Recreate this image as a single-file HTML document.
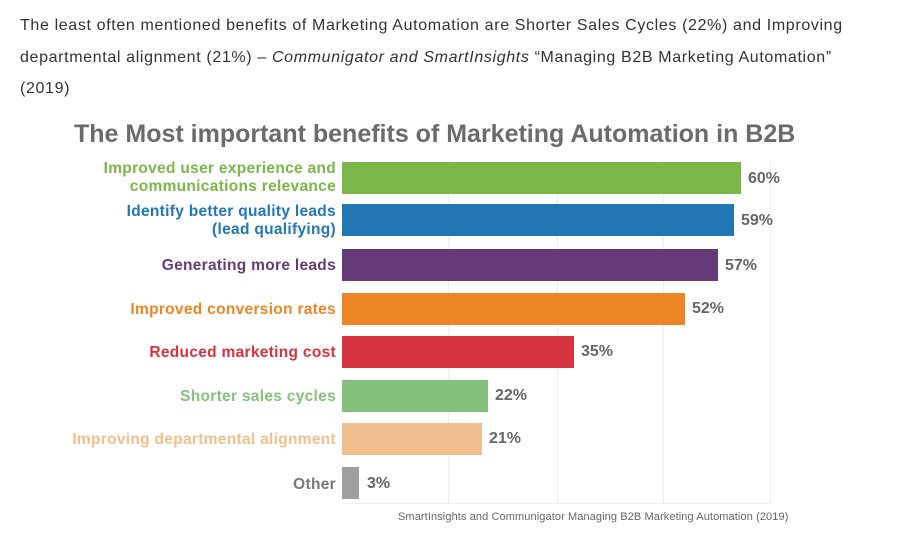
<!DOCTYPE html>
<html><head><meta charset="utf-8"><style>
body{margin:0;width:904px;height:542px;background:#fff;position:relative;overflow:hidden;font-family:"Liberation Sans",sans-serif}
.p{position:absolute;left:20px;top:10px;width:840px;font-size:16px;line-height:31.5px;color:#333;letter-spacing:0.64px}
.t{position:absolute;left:74px;top:120px;font-size:25px;font-weight:bold;color:#6b6b6b;white-space:nowrap;letter-spacing:0px}
.bar{position:absolute;left:342px;height:32px}
.lab{position:absolute;right:568px;text-align:right;font-weight:bold;font-size:15.5px;line-height:18px;white-space:nowrap;letter-spacing:0.3px}
.v{position:absolute;font-weight:bold;font-size:16px;color:#666}
.g{position:absolute;top:160px;height:344px;width:1px;background:#eee}
</style></head><body>
<div class="p">The least often mentioned benefits of Marketing Automation are Shorter Sales Cycles (22%) and Improving departmental alignment (21%) – <i>Communigator and SmartInsights</i> “Managing B2B Marketing Automation” (2019)</div>
<div class="t">The Most important benefits of Marketing Automation in B2B</div>
<div class="g" style="left:448px"></div><div class="g" style="left:557px"></div><div class="g" style="left:663px"></div><div class="g" style="left:770px"></div>
<div style="position:absolute;left:342px;top:503px;width:430px;height:1px;background:#eee"></div>

<div class="bar" style="top:162px;width:399px;background:#7ab648"></div>
<div class="lab" style="top:160px;color:#7ab648">Improved user experience and<br>communications relevance</div>
<div class="v" style="left:748px;top:170px">60%</div>

<div class="bar" style="top:204px;width:392px;background:#2276b4"></div>
<div class="lab" style="top:203px;color:#2276b4">Identify better quality leads<br>(lead qualifying)</div>
<div class="v" style="left:741px;top:212px">59%</div>

<div class="bar" style="top:249px;width:376px;background:#663a78"></div>
<div class="lab" style="top:257px;color:#663a78">Generating more leads</div>
<div class="v" style="left:725px;top:257px">57%</div>

<div class="bar" style="top:293px;width:343px;background:#ee8525"></div>
<div class="lab" style="top:301px;color:#ee8525">Improved conversion rates</div>
<div class="v" style="left:692px;top:300px">52%</div>

<div class="bar" style="top:336px;width:232px;background:#d7323f"></div>
<div class="lab" style="top:344px;color:#d7323f">Reduced marketing cost</div>
<div class="v" style="left:581px;top:343px">35%</div>

<div class="bar" style="top:380px;width:146px;background:#84c17d"></div>
<div class="lab" style="top:388px;color:#84c17d">Shorter sales cycles</div>
<div class="v" style="left:495px;top:387px">22%</div>

<div class="bar" style="top:423px;width:140px;background:#efc08d"></div>
<div class="lab" style="top:431px;color:#efc08d">Improving departmental alignment</div>
<div class="v" style="left:489px;top:430px">21%</div>

<div class="bar" style="top:467px;width:17px;background:#a0a0a0"></div>
<div class="lab" style="top:476px;color:#777">Other</div>
<div class="v" style="left:367px;top:475px">3%</div>

<div style="position:absolute;left:398px;top:511px;font-size:11px;color:#666;letter-spacing:0.1px">SmartInsights and Communigator Managing B2B Marketing Automation (2019)</div>
</body></html>
